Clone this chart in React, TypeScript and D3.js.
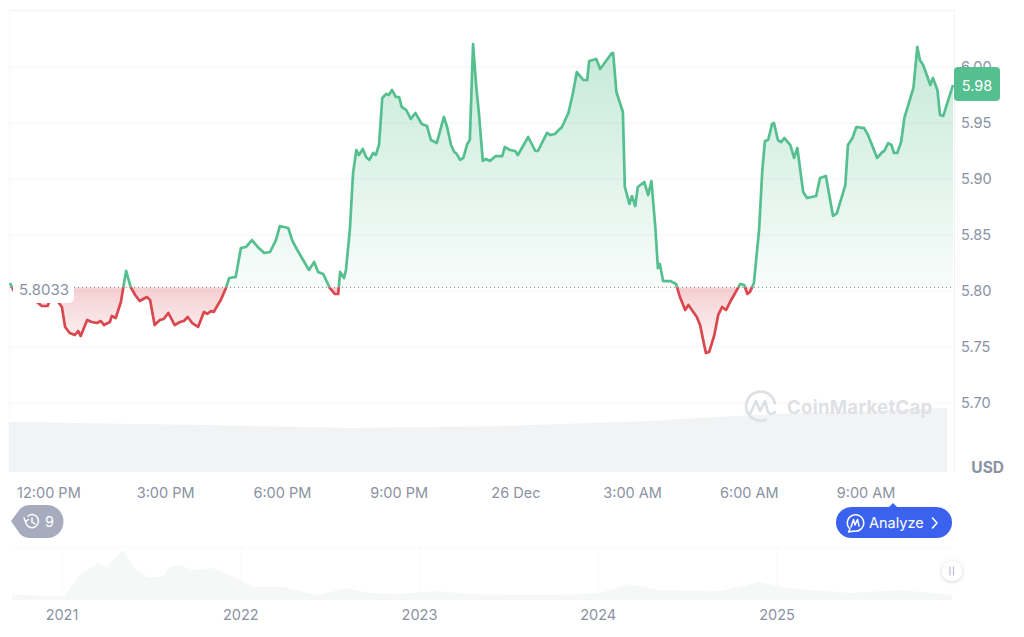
import React from "react";
import * as d3 from "d3";

// minutes after 12:00 PM, 25 Dec
const minutes = [-60,-54,-32,-11,-2,5,20,25,32,40,45,49,59,66,74,80,85,94,97,103,111,119,126,133,140,151,156,163,171,177,184,194,202,208,214,221,230,239,244,250,254,265,273,278,288,296,304,313,322,332,341,350,356,369,375,383,392,401,409,415,423,433,441,446,449,455,458,464,469,474,478,484,489,494,500,504,509,514,520,524,529,535,540,544,551,558,565,575,583,589,598,609,614,620,625,629,634,639,645,649,654,659,663,669,674,680,689,699,703,711,719,723,739,750,754,768,773,780,791,801,808,814,824,830,833,844,850,868,870,875,878,885,888,895,899,904,908,918,924,929,935,939,942,947,958,967,973,981,986,999,1004,1013,1018,1026,1032,1038,1044,1052,1066,1072,1077,1081,1087,1095,1100,1104,1109,1115,1118,1124,1129,1134,1143,1149,1154,1163,1169,1183,1189,1198,1209,1215,1228,1232,1239,1245,1257,1263,1277,1285,1288,1294,1299,1303,1308,1314,1319,1333,1339,1343,1348,1359,1363,1370,1374,1379,1394];
const prices = [5.8071,5.8,5.7964,5.7866,5.7866,5.7973,5.7857,5.7679,5.7625,5.7607,5.7643,5.7598,5.7741,5.7723,5.7714,5.7732,5.7696,5.7723,5.7777,5.7759,5.7902,5.8179,5.8036,5.7964,5.7911,5.7946,5.792,5.7696,5.7741,5.775,5.7804,5.7696,5.7723,5.7732,5.7768,5.7714,5.7679,5.7813,5.7795,5.7821,5.7813,5.792,5.8027,5.8116,5.8125,5.8384,5.8393,5.8455,5.8393,5.8339,5.8348,5.8455,5.858,5.8563,5.8455,5.8366,5.8277,5.8188,5.8259,5.817,5.8152,5.8027,5.7973,5.7973,5.817,5.8116,5.8188,5.8545,5.9054,5.9259,5.9214,5.9268,5.9196,5.917,5.9232,5.9214,5.9304,5.9723,5.9759,5.975,5.9795,5.9732,5.9732,5.9643,5.9616,5.9536,5.9589,5.9491,5.9473,5.9348,5.9321,5.9554,5.9464,5.9304,5.9241,5.9223,5.917,5.9188,5.9313,5.9348,6.0205,5.9821,5.9589,5.9161,5.9179,5.9161,5.9205,5.9205,5.9286,5.9259,5.925,5.9214,5.9375,5.925,5.925,5.9411,5.9393,5.9402,5.9464,5.9589,5.9768,5.9955,5.9884,5.9884,6.0054,6.0071,5.9982,6.0125,6.0125,5.9777,5.9723,5.9598,5.8929,5.8777,5.8848,5.8759,5.8929,5.8973,5.8857,5.8982,5.8571,5.8205,5.8241,5.8089,5.8089,5.8063,5.7946,5.783,5.7875,5.7768,5.7696,5.7446,5.7455,5.7607,5.7786,5.7857,5.783,5.792,5.8063,5.8054,5.7973,5.7991,5.8071,5.8545,5.908,5.9339,5.9348,5.9491,5.95,5.9348,5.933,5.9366,5.9304,5.9188,5.9277,5.8884,5.883,5.8848,5.9009,5.9027,5.867,5.8696,5.8946,5.9304,5.9366,5.9464,5.9455,5.9393,5.9188,5.9241,5.925,5.9321,5.9304,5.9232,5.9232,5.933,5.9545,5.9813,6.0179,6.0063,6.0018,5.9839,5.9902,5.9795,5.9571,5.9563,5.9839];
const basePrice = 5.8033;
const lastPrice = "5.98";

const volumeMinutes = [-62,240,470,700,930,1000,1120,1385];
const volumeValues = [50,47,44,46,51,54,58,64];

const timeTicks = [0,180,360,540,720,900,1080,1260];
const timeLabels = ["12:00 PM","3:00 PM","6:00 PM","9:00 PM","26 Dec","3:00 AM","6:00 AM","9:00 AM"];
const priceTicks = [5.7,5.75,5.8,5.85,5.9,5.95,6.0];

const navYears = [2020.72,2021.01,2021.06,2021.1,2021.2,2021.25,2021.34,2021.4,2021.48,2021.56,2021.6,2021.66,2021.73,2021.84,2021.96,2022.07,2022.24,2022.35,2022.44,2022.59,2022.71,2022.89,2023.1,2023.27,2023.52,2023.79,2024.01,2024.17,2024.34,2024.68,2024.9,2025.07,2025.41,2025.69,2025.98];
const navValues = [5,4,15,25,37,33,50,33,23,23,33,35,30,32,23,13,13,8,5,12,7,6,9,6,5,5,7,16,10,9,18,12,7,10,5];
const navTicks = [2021,2022,2023,2024,2025];

const GREEN = "#55bf8f";
const RED = "#d9474f";
const GREY = "#8a92a3";
const FONT = "Inter, 'Noto Sans', sans-serif";

export default function App() {
  const x = d3.scaleLinear().domain([-60, 1394]).range([10, 953]);
  const y = d3.scaleLinear().domain([5.7, 6.0]).range([403, 67]);
  const yBase = y(basePrice);
  const pts = minutes.map((m, i) => [m, prices[i]] as [number, number]);
  const line = d3.line<[number, number]>().x(d => x(d[0])).y(d => y(d[1]));
  const area = d3.area<[number, number]>().x(d => x(d[0])).y0(yBase).y1(d => y(d[1]));

  const vy = d3.scaleLinear().domain([0, 50]).range([472, 422]);
  const volArea = d3.area<number>()
    .x((_, i) => x(volumeMinutes[i]))
    .y0(vy(0))
    .y1(d => vy(d));

  const nx = d3.scaleLinear().domain([2021, 2025]).range([62, 777]);
  const ny = d3.scaleLinear().domain([0, 50]).range([600, 550]);
  const navArea = d3.area<number>()
    .x((_, i) => nx(navYears[i]))
    .y0(ny(0))
    .y1(d => ny(d));

  return (
    <svg width={1024} height={637} viewBox="0 0 1024 637"
      style={{ position: "absolute", left: 0, top: 0, background: "#fff" }}
      fontFamily={FONT}>
      <defs>
        <clipPath id="above"><rect x={0} y={0} width={954} height={yBase} /></clipPath>
        <clipPath id="below"><rect x={0} y={yBase} width={954} height={300} /></clipPath>
        <linearGradient id="gFill" gradientUnits="userSpaceOnUse" x1={0} x2={0} y1={44} y2={yBase}>
          <stop offset="0" stopColor="#55bf8f" stopOpacity={0.34} />
          <stop offset="1" stopColor="#55bf8f" stopOpacity={0.04} />
        </linearGradient>
        <linearGradient id="rFill" gradientUnits="userSpaceOnUse" x1={0} x2={0} y1={yBase} y2={353}>
          <stop offset="0" stopColor="#d9474f" stopOpacity={0.26} />
          <stop offset="1" stopColor="#d9474f" stopOpacity={0.02} />
        </linearGradient>
        <filter id="soft" x="-50%" y="-50%" width="200%" height="200%">
          <feDropShadow dx={0} dy={1} stdDeviation={2} floodColor="#000" floodOpacity={0.18} />
        </filter>
        <filter id="blur" x="-5%" y="-5%" width="110%" height="110%">
          <feGaussianBlur stdDeviation={0.6} />
        </filter>
      </defs>

      {/* frame and grid */}
      <line x1={10} x2={954} y1={10.5} y2={10.5} stroke="#f0f2f5" />
      <line x1={9.5} x2={9.5} y1={10} y2={472} stroke="#f7f8f9" />
      <line x1={954.5} x2={954.5} y1={10} y2={472} stroke="#f0f2f5" />
      {priceTicks.map(t => (
        <line key={t} x1={10} x2={954} y1={y(t)} y2={y(t)} stroke="#f3f4f7" />
      ))}

      {/* volume */}
      <path d={volArea(volumeValues) || ""} fill="#f2f3f4" />

      {/* price */}
      <path d={area(pts) || ""} fill="url(#gFill)" clipPath="url(#above)" />
      <path d={area(pts) || ""} fill="url(#rFill)" clipPath="url(#below)" />
      <line x1={10} x2={954} y1={yBase} y2={yBase} stroke="#7d8590" strokeDasharray="1 3" />
      <path d={line(pts) || ""} fill="none" stroke={GREEN} strokeWidth={2.7} strokeLinejoin="round" clipPath="url(#above)" />
      <path d={line(pts) || ""} fill="none" stroke={RED} strokeWidth={2.7} strokeLinejoin="round" clipPath="url(#below)" />

      {/* base price label */}
      <rect x={13} y={279} width={61} height={24} rx={5} fill="#fff" />
      <text x={19} y={295} fontSize={15} fill={GREY}>{basePrice.toFixed(4)}</text>

      {/* watermark */}
      <g stroke="#dcdfe3" fill="none" strokeWidth={2.6} strokeLinecap="round" strokeLinejoin="round">
        <path d="M773 412 A14.5 14.5 0 1 1 768 394" transform="rotate(45 760 407)" />
        <path d="M750 414 L756 401 L760 411 L765 401 L768 412 Q771 416 775 412" />
      </g>
      <text x={787} y={414} fontSize={18.6} fontWeight={700} fill="#dfe1e5" letterSpacing={0.25}>CoinMarketCap</text>

      {/* axis labels */}
      {priceTicks.map(t => (
        <text key={t} x={961} y={y(t) + 5} fontSize={14.5} fill={GREY}>{t.toFixed(2)}</text>
      ))}
      <rect x={954} y={67} width={46} height={34} rx={4} fill={GREEN} />
      <text x={977} y={90.5} fontSize={14.5} fill="#fff" textAnchor="middle">{lastPrice}</text>
      <text x={1004} y={472.5} fontSize={15.5} fontWeight={700} fill={GREY} textAnchor="end">USD</text>

      {timeTicks.map((t, i) => (
        <text key={t} x={x(t)} y={498} fontSize={14.5} fill={GREY} textAnchor="middle">{timeLabels[i]}</text>
      ))}

      {/* events badge */}
      <path d="M11 521 L20 509 Q24 505 30 505 L47 505 A16.5 16.5 0 0 1 47 538 L30 538 Q24 538 20 534 Z" fill="#a6abbd" />
      <g stroke="#fff" fill="none" strokeWidth={1.5} strokeLinecap="round">
        <path d="M25.5 521 A6.5 6.5 0 1 0 28 516" />
        <path d="M32 518 L32 522 L35 524" />
        <path d="M24 518 L25.5 521.5 L28.5 519.5" />
      </g>
      <text x={45} y={527} fontSize={14.5} fill="#fff">9</text>

      {/* analyze button */}
      <path d="M889 507 L893 503 L897 507 Z" fill="#3b62ee" />
      <rect x={836} y={507} width={116} height={31} rx={15.5} fill="#3b62ee" />
      <g stroke="#fff" fill="none" strokeWidth={1.5} strokeLinecap="round" strokeLinejoin="round">
        <path d="M850 529 L848.5 532 L854 531 A8.2 8.2 0 1 0 850 529 Z" />
        <path d="M851 527 L853.5 519.5 L855 525 L857.5 519.5 L859 526" />
      </g>
      <text x={869} y={528} fontSize={14.5} fontWeight={400} fill="#fff">Analyze</text>
      <path d="M932.5 518 L937 523 L932.5 528" stroke="#fff" fill="none" strokeWidth={1.6} strokeLinecap="round" strokeLinejoin="round" />

      {/* navigator */}
      <line x1={10} x2={952} y1={547.5} y2={547.5} stroke="#fafafb" />
      {navTicks.map(t => (
        <line key={t} x1={nx(t)} x2={nx(t)} y1={547} y2={600} stroke="#f8f9fa" />
      ))}
      <path d={navArea(navValues) || ""} fill="#f6f7f7" filter="url(#blur)" />
      {navTicks.map(t => (
        <text key={t} x={nx(t)} y={620} fontSize={14.5} fill={GREY} textAnchor="middle">{t}</text>
      ))}
      <circle cx={952} cy={571} r={10} fill="#fff" filter="url(#soft)" />
      <g stroke="#b8bec9" strokeWidth={1.2}>
        <line x1={950} x2={950} y1={566.5} y2={575.5} />
        <line x1={953.5} x2={953.5} y1={566.5} y2={575.5} />
      </g>
    </svg>
  );
}
